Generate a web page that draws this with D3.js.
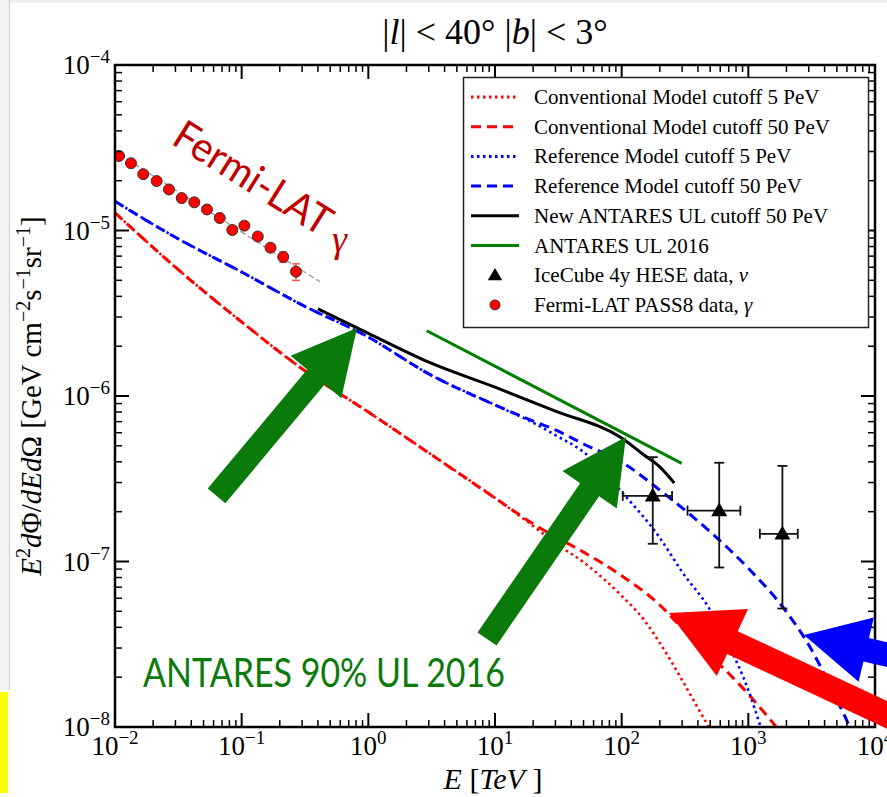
<!DOCTYPE html>
<html>
<head>
<meta charset="utf-8">
<script src="https://cdn.jsdelivr.net/npm/d3@7"></script>
<style>
  html, body { margin: 0; padding: 0; background: #fff; }
  svg { display: block; }
  text { font-family: "Liberation Serif", "Times New Roman", serif; fill: #000; }
</style>
</head>
<body>
<svg id="chart" width="887" height="797"></svg>
<script>
// Fermi-LAT PASS8 data (gamma)
const fermiE    = [0.01076, 0.01337, 0.01671, 0.02133, 0.02667, 0.03365, 0.04227, 0.05321, 0.06714, 0.08433, 0.1050, 0.1340, 0.1690, 0.2128, 0.2685];
const fermiFlux = [2.82e-5, 2.55e-5, 2.19e-5, 1.99e-5, 1.77e-5, 1.57e-5, 1.48e-5, 1.34e-5, 1.19e-5, 1.007e-5, 1.07e-5, 9.2e-6, 7.87e-6, 6.92e-6, 5.64e-6];
const fermiErr  = [0, 0, 0, 0, 0, 0, 0, 0, 0, 0, 0.1e-6, 0.2e-6, 0.35e-6, 0.5e-6, 0.65e-6];
const fermiFitE    = [0.0107, 0.415];
const fermiFitFlux = [2.9e-5, 4.9e-6];

// Conventional model (red)
const convE5  = [0.01, 0.03, 0.1, 0.3, 1, 3, 10, 20, 30, 50, 100, 150, 200, 300, 400, 500];
const convF5  = [1.28e-5, 6.0e-6, 2.8e-6, 1.46e-6, 8.0e-7, 4.53e-7, 2.42e-7, 1.64e-7, 1.29e-7, 9.9e-8, 6.2e-8, 4.44e-8, 3.22e-8, 1.92e-8, 1.30e-8, 9.7e-9];
const convE50 = [0.01, 0.03, 0.1, 0.3, 1, 3, 10, 20, 30, 50, 100, 200, 300, 500, 1000, 1500, 1800];
const convF50 = [1.28e-5, 6.0e-6, 2.8e-6, 1.46e-6, 8.0e-7, 4.53e-7, 2.42e-7, 1.69e-7, 1.41e-7, 1.14e-7, 8.2e-8, 5.46e-8, 3.96e-8, 2.72e-8, 1.58e-8, 1.10e-8, 9.3e-9];

// Reference model (blue)
const refE5  = [0.01, 0.03, 0.1, 0.3, 1, 3, 10, 20, 30, 50, 100, 200, 300, 500, 700, 1000, 1250];
const refF5  = [1.50e-5, 9.1e-6, 5.61e-6, 3.55e-6, 2.27e-6, 1.36e-6, 8.83e-7, 6.9e-7, 5.8e-7, 4.59e-7, 2.63e-7, 1.39e-7, 8.65e-8, 5.09e-8, 3.13e-8, 1.67e-8, 1.0e-8];
const refE50 = [0.01, 0.03, 0.1, 0.3, 1, 3, 10, 20, 30, 50, 100, 200, 500, 1000, 2000, 3000, 5000, 6500];
const refF50 = [1.50e-5, 9.1e-6, 5.61e-6, 3.55e-6, 2.27e-6, 1.36e-6, 8.83e-7, 7.06e-7, 6.24e-7, 5.13e-7, 3.99e-7, 2.70e-7, 1.51e-7, 9.1e-8, 4.96e-8, 3.13e-8, 1.46e-8, 9.6e-9];

// ANTARES upper limits
const antNewE = [0.4, 1, 3, 10, 30, 100, 150, 200, 260];
const antNewF = [3.36e-6, 2.39e-6, 1.60e-6, 1.13e-6, 8.11e-7, 5.57e-7, 4.40e-7, 3.73e-7, 2.98e-7];
const ant16E  = [2.89, 298];
const ant16F  = [2.48e-6, 3.92e-7];

// IceCube 4y HESE (nu)
const iceE     = [176, 589, 1858];
const iceElo   = [102, 331, 1233];
const iceEhi   = [250, 865, 2455];
const iceFlux  = [2.49e-7, 2.03e-7, 1.47e-7];
const iceFlo   = [1.28e-7, 9.2e-8, 5.2e-8];
const iceFhi   = [4.27e-7, 3.95e-7, 3.78e-7];

const legendLabels = [
  'Conventional Model cutoff 5 PeV',
  'Conventional Model cutoff 50 PeV',
  'Reference Model cutoff 5 PeV',
  'Reference Model cutoff 50 PeV',
  'New ANTARES UL cutoff 50 PeV',
  'ANTARES UL 2016',
  'IceCube 4y HESE data, ',
  'Fermi-LAT PASS8 data, '
];
const legendGreek = ['', '', '', '', '', '', 'ν', 'γ'];

// slide arrows (tail -> tip, in E / flux units)
const arrowTails = [[0.0633, 2.49e-7], [8.65, 3.40e-8], [46900, 2.15e-8], [46900, 7.36e-9]];
const arrowTips  = [[0.814, 2.58e-6], [108, 5.65e-7], [2748, 3.60e-8], [236.4, 4.89e-8]];

const svg = d3.select('#chart');
const W = 887, H = 797;
const plot = { left: 115, right: 875, top: 65, bottom: 727 };

const x = d3.scaleLog().domain([1e-2, 1e4]).range([plot.left, plot.right]);
const y = d3.scaleLog().domain([1e-8, 1e-4]).range([plot.bottom, plot.top]);
const zip = (a, b) => a.map((v, i) => [v, b[i]]);
const RED = '#ff0000', BLUE = '#0000ff', GREEN = '#008000', DARKGREEN = '#0a7b0a';
const DOT = '2.5,3.5', DASH = '10,6';
const SANS = 'Lato, "Open Sans", sans-serif';

// slide leftovers at the edge
svg.append('rect').attr('x', 0).attr('y', 0).attr('width', 9).attr('height', 690).attr('fill', '#f3f3f3');
svg.append('line').attr('x1', 9.5).attr('x2', 9.5).attr('y1', 0).attr('y2', 690).attr('stroke', '#d6d6d6').attr('stroke-width', 1.5);
svg.append('rect').attr('x', 0).attr('y', 692).attr('width', 8).attr('height', 101).attr('fill', '#ffff00');
svg.append('rect').attr('x', 10).attr('y', 0).attr('width', W - 10).attr('height', 3).attr('fill', '#eeeeee');

svg.append('clipPath').attr('id', 'clip').append('rect')
  .attr('x', plot.left).attr('y', plot.top)
  .attr('width', plot.right - plot.left).attr('height', plot.bottom - plot.top);

const g = svg.append('g').attr('clip-path', 'url(#clip)');
const line = d3.line().x(d => x(d[0])).y(d => y(d[1])).curve(d3.curveMonotoneX);

// model curves
const curves = [
  { E: convE5, F: convF5, color: RED, dash: DOT, w: 2.6 },
  { E: convE50, F: convF50, color: RED, dash: DASH, w: 3 },
  { E: refE5, F: refF5, color: BLUE, dash: DOT, w: 2.6 },
  { E: refE50, F: refF50, color: BLUE, dash: DASH, w: 3 },
  { E: antNewE, F: antNewF, color: '#000', dash: null, w: 3 },
  { E: ant16E, F: ant16F, color: GREEN, dash: null, w: 3 }
];
curves.forEach(c => {
  g.append('path')
    .attr('d', line(zip(c.E, c.F)))
    .attr('fill', 'none')
    .attr('stroke', c.color)
    .attr('stroke-width', c.w)
    .attr('stroke-dasharray', c.dash);
});

// Fermi fit + points
g.append('path')
  .attr('d', d3.line().x(d => x(d[0])).y(d => y(d[1]))(zip(fermiFitE, fermiFitFlux)))
  .attr('fill', 'none').attr('stroke', '#999').attr('stroke-width', 1.3).attr('stroke-dasharray', '6,3');
fermiE.forEach((e, i) => {
  if (fermiErr[i] > 0) {
    g.append('line').attr('x1', x(e)).attr('x2', x(e))
      .attr('y1', y(fermiFlux[i] + fermiErr[i])).attr('y2', y(fermiFlux[i] - fermiErr[i]))
      .attr('stroke', '#f06060').attr('stroke-width', 1.5);
    [fermiFlux[i] + fermiErr[i], fermiFlux[i] - fermiErr[i]].forEach(v => {
      g.append('line').attr('x1', x(e) - 4).attr('x2', x(e) + 4).attr('y1', y(v)).attr('y2', y(v))
        .attr('stroke', '#f06060').attr('stroke-width', 1.5);
    });
  }
});
g.selectAll('.fermi').data(zip(fermiE, fermiFlux)).enter().append('circle')
  .attr('cx', d => x(d[0])).attr('cy', d => y(d[1])).attr('r', 5.5)
  .attr('fill', RED).attr('stroke', '#333').attr('stroke-width', 1);

// IceCube points with error bars
iceE.forEach((e, i) => {
  const cx = x(e), cy = y(iceFlux[i]);
  const eb = g.append('g').attr('stroke', '#111').attr('stroke-width', 1.8);
  eb.append('line').attr('x1', cx).attr('x2', cx).attr('y1', y(iceFhi[i])).attr('y2', y(iceFlo[i]));
  eb.append('line').attr('x1', x(iceElo[i])).attr('x2', x(iceEhi[i])).attr('y1', cy).attr('y2', cy);
  [iceFhi[i], iceFlo[i]].forEach(v => eb.append('line').attr('x1', cx - 5).attr('x2', cx + 5).attr('y1', y(v)).attr('y2', y(v)));
  [iceElo[i], iceEhi[i]].forEach(v => eb.append('line').attr('x1', x(v)).attr('x2', x(v)).attr('y1', cy - 5).attr('y2', cy + 5));
  g.append('path').attr('d', d3.symbol(d3.symbolTriangle, 110)()).attr('transform', `translate(${cx},${cy + 1})`).attr('fill', '#000');
});

// ticks on all four sides, pointing inward
const axes = svg.append('g').attr('stroke', '#000');
const isMajor = t => Math.abs(Math.log10(t) - Math.round(Math.log10(t))) < 1e-9;
x.ticks().forEach(t => {
  const len = isMajor(t) ? 14 : 7, px = x(t);
  axes.append('line').attr('x1', px).attr('x2', px).attr('y1', plot.bottom).attr('y2', plot.bottom - len).attr('stroke-width', isMajor(t) ? 2 : 1.5);
  axes.append('line').attr('x1', px).attr('x2', px).attr('y1', plot.top).attr('y2', plot.top + len).attr('stroke-width', isMajor(t) ? 2 : 1.5);
});
y.ticks().forEach(t => {
  const len = isMajor(t) ? 14 : 7, py = y(t);
  axes.append('line').attr('x1', plot.left).attr('x2', plot.left + len).attr('y1', py).attr('y2', py).attr('stroke-width', isMajor(t) ? 2 : 1.5);
  axes.append('line').attr('x1', plot.right).attr('x2', plot.right - len).attr('y1', py).attr('y2', py).attr('stroke-width', isMajor(t) ? 2 : 1.5);
});
svg.append('rect')
  .attr('x', plot.left).attr('y', plot.top)
  .attr('width', plot.right - plot.left).attr('height', plot.bottom - plot.top)
  .attr('fill', 'none').attr('stroke', '#000').attr('stroke-width', 2.5);

// tick labels
const pow10 = (sel, p) => {
  sel.append('tspan').text('10');
  sel.append('tspan').attr('dy', -11).attr('font-size', 19).text(p < 0 ? '\u2212' + (-p) : String(p));
};
x.ticks().filter(isMajor).forEach(t => {
  const txt = svg.append('text').attr('x', x(t)).attr('y', 755).attr('text-anchor', 'middle').attr('font-size', 27);
  pow10(txt, Math.round(Math.log10(t)));
});
y.ticks().filter(isMajor).forEach(t => {
  const txt = svg.append('text').attr('x', 110).attr('y', y(t) + 9).attr('text-anchor', 'end').attr('font-size', 27);
  pow10(txt, Math.round(Math.log10(t)));
});

// title
const title = svg.append('text').attr('x', 495).attr('y', 44).attr('text-anchor', 'middle').attr('font-size', 36);
title.append('tspan').text('|');
title.append('tspan').attr('font-style', 'italic').text('l');
title.append('tspan').text('| < 40° |');
title.append('tspan').attr('font-style', 'italic').text('b');
title.append('tspan').text('| < 3°');

// axis labels
const xl = svg.append('text').attr('x', 493).attr('y', 789).attr('text-anchor', 'middle').attr('font-size', 30);
xl.append('tspan').attr('font-style', 'italic').text('E');
xl.append('tspan').text(' [');
xl.append('tspan').attr('font-style', 'italic').text('TeV');
xl.append('tspan').text(' ]');

const yl = svg.append('text').attr('transform', 'translate(41,396) rotate(-90)').attr('text-anchor', 'middle').attr('font-size', 29);
yl.append('tspan').attr('font-style', 'italic').text('E');
yl.append('tspan').attr('dy', -11).attr('font-size', 20).text('2');
yl.append('tspan').attr('dy', 11).attr('font-style', 'italic').text('d');
yl.append('tspan').text('Φ/');
yl.append('tspan').attr('font-style', 'italic').text('dEd');
yl.append('tspan').text('Ω [GeV cm');
yl.append('tspan').attr('dy', -11).attr('font-size', 20).text('\u22122');
yl.append('tspan').attr('dy', 11).text('s');
yl.append('tspan').attr('dy', -11).attr('font-size', 20).text('\u22121');
yl.append('tspan').attr('dy', 11).text('sr');
yl.append('tspan').attr('dy', -11).attr('font-size', 20).text('\u22121');
yl.append('tspan').attr('dy', 11).text(']');

// legend
const leg = svg.append('g');
leg.append('rect').attr('x', 463.5).attr('y', 77.5).attr('width', 405).attr('height', 250)
  .attr('fill', '#fff').attr('stroke', '#222').attr('stroke-width', 1.5);
const legStyles = [
  { color: RED, dash: DOT }, { color: RED, dash: DASH }, { color: BLUE, dash: DOT }, { color: BLUE, dash: DASH },
  { color: '#000', dash: null }, { color: GREEN, dash: null }, { marker: 'tri' }, { marker: 'dot' }
];
legendLabels.forEach((lab, i) => {
  const cy = 97 + i * 29.7, s = legStyles[i];
  if (s.marker === 'tri') {
    leg.append('path').attr('d', d3.symbol(d3.symbolTriangle, 90)()).attr('transform', `translate(495,${cy + 1})`).attr('fill', '#000');
  } else if (s.marker === 'dot') {
    leg.append('circle').attr('cx', 495).attr('cy', cy).attr('r', 5).attr('fill', RED).attr('stroke', '#333');
  } else {
    leg.append('line').attr('x1', 471).attr('x2', 519).attr('y1', cy).attr('y2', cy)
      .attr('stroke', s.color).attr('stroke-width', 3).attr('stroke-dasharray', s.dash);
  }
  const t = leg.append('text').attr('x', 534).attr('y', cy + 7).attr('font-size', 21).text(lab);
  if (legendGreek[i]) t.append('tspan').attr('font-style', 'italic').text(legendGreek[i]);
});

// slide overlays: arrows and captions
const arrow = (tail, tip, w, hl, hw) => {
  const p0 = [x(tail[0]), y(tail[1])], p1 = [x(tip[0]), y(tip[1])];
  const dx = p1[0] - p0[0], dy = p1[1] - p0[1], L = Math.hypot(dx, dy);
  const u = [dx / L, dy / L], n = [-u[1], u[0]];
  const b = [p1[0] - u[0] * hl, p1[1] - u[1] * hl];
  const pt = (p, k) => [p[0] + n[0] * k, p[1] + n[1] * k];
  return [pt(p0, w / 2), pt(b, w / 2), pt(b, hw / 2), p1, pt(b, -hw / 2), pt(b, -w / 2), pt(p0, -w / 2)]
    .map(p => p.join(',')).join(' ');
};
const arrowStyle = [
  { color: DARKGREEN, w: 23, hl: 64, hw: 66 },
  { color: DARKGREEN, w: 23, hl: 64, hw: 66 },
  { color: BLUE, w: 24, hl: 64, hw: 66 },
  { color: RED, w: 25, hl: 70, hw: 74 }
];
arrowTails.forEach((t, i) => {
  const s = arrowStyle[i];
  svg.append('polygon').attr('points', arrow(t, arrowTips[i], s.w, s.hl, s.hw)).attr('fill', s.color);
});

svg.append('text').attr('transform', 'translate(170,143) rotate(32)')
  .style('font-family', SANS).attr('font-size', 41)
  .attr('textLength', 178).attr('lengthAdjust', 'spacingAndGlyphs')
  .style('fill', '#c00000').text('Fermi-LAT');
svg.append('text').attr('x', 332).attr('y', 252).attr('font-size', 38).attr('font-style', 'italic')
  .style('fill', '#c00000').text('γ');

svg.append('text').attr('x', 143).attr('y', 687)
  .style('font-family', SANS).attr('font-size', 40)
  .attr('textLength', 362).attr('lengthAdjust', 'spacingAndGlyphs')
  .style('fill', DARKGREEN).text('ANTARES 90% UL 2016');
</script>
</body>
</html>
